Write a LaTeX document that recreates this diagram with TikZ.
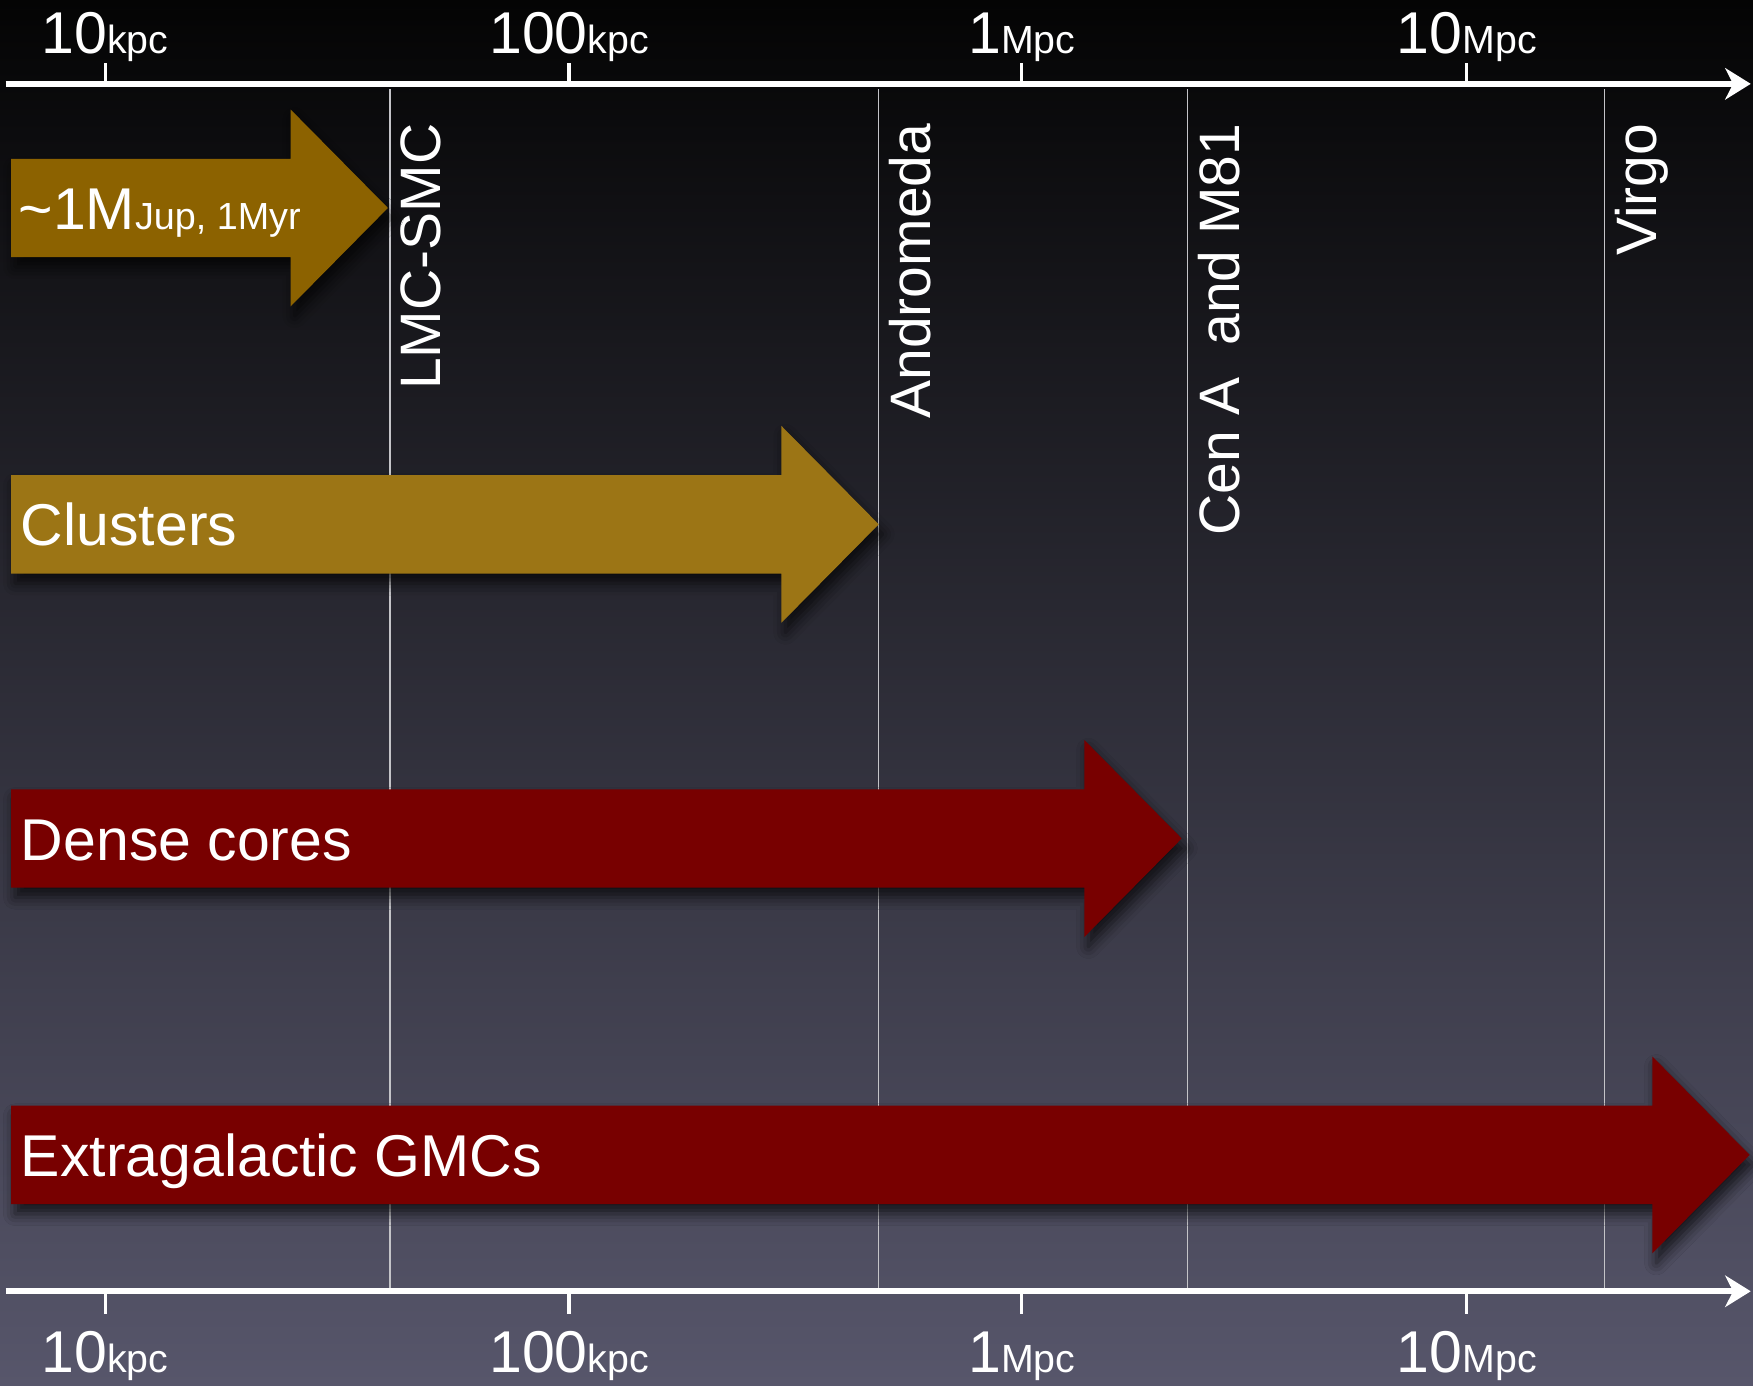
\documentclass[tikz,border=0pt]{standalone}
\usepackage{fontspec}
\setmainfont{Liberation Sans}
\usetikzlibrary{calc, arrows.meta, shadows.blur}

\begin{document}
\begin{tikzpicture}[x=0.01cm, y=-0.01cm]
    % Define colours
    \definecolor{skyTop}{HTML}{040404}
    \definecolor{skyMid}{HTML}{25252F}
    \definecolor{skyBottom}{HTML}{57566B}
    \definecolor{markerColour}{HTML}{C4C4C8}
    \definecolor{ochreColour}{HTML}{8C6200}
    \definecolor{goldColour}{HTML}{9C7515}
    \definecolor{redColour}{HTML}{780000}

    % Define arrow sizes
    \def\shaftHalf{44}
    \def\headHalf{88}
    \def\headLength{87}

    % Define styles
    \tikzset{
        axisline/.style={white, line width=1.6pt, -{Stealth[length=6.5pt, width=8pt, inset=2pt]}},
        tickline/.style={white, line width=0.8pt},
        markerline/.style={markerColour, line width=0.35pt},
        bigtext/.style={text=white, inner sep=0pt, font=\fontsize{15}{18}\selectfont},
        sidetext/.style={text=white, inner sep=0pt, font=\fontsize{14.5}{18}\selectfont},
        arrowshadow/.style={blur shadow={shadow xshift=1pt, shadow yshift=-2.5pt,
            shadow blur radius=3pt, shadow opacity=70}}
    }
    \def\smallfont{\fontsize{9.6}{12}\selectfont}
    \def\unitfont{\fontsize{10}{12}\selectfont}

    % Block arrow: centre y, tip x, colour
    \def\rangeArrow#1#2#3{%
        \fill[#3, arrowshadow] (10,{#1-\shaftHalf}) -- ({#2-\headLength},{#1-\shaftHalf})
            -- ({#2-\headLength},{#1-\headHalf}) -- (#2,#1)
            -- ({#2-\headLength},{#1+\headHalf}) -- ({#2-\headLength},{#1+\shaftHalf})
            -- (10,{#1+\shaftHalf}) -- cycle;}

    % Background
    \shade[top color=skyTop, middle color=skyMid, bottom color=skyBottom] (0,0) rectangle (1568,1239);
    \useasboundingbox (0,0) rectangle (1568,1239);

    % Draw distance markers
    \foreach \x/\name/\txt in {349/lmc/LMC-SMC, 786/andromeda/Andromeda,
                               1062/cena/Cen A~~and M81, 1435/virgo/Virgo} {
        \draw[markerline] (\x,80) -- (\x,1153);
        \node[sidetext, rotate=90, anchor=north east] (\name) at (\x+9,110) {\txt};
    }

    % Draw the range arrows
    \rangeArrow{186}{347}{ochreColour}
    \rangeArrow{469}{786}{goldColour}
    \rangeArrow{750}{1057}{redColour}
    \rangeArrow{1033}{1565}{redColour}

    % Label the range arrows
    \node[bigtext, anchor=base west] (jupiter) at (16,205) {\textasciitilde 1M{\smallfont Jup, 1Myr}};
    \node[bigtext, anchor=base west] (clusters) at (18,488) {Clusters};
    \node[bigtext, anchor=base west] (cores) at (18,770) {Dense cores};
    \node[bigtext, anchor=base west] (gmcs) at (18,1052) {Extragalactic GMCs};

    % Draw axes
    \draw[axisline] (5,75) -- (1566,75);
    \draw[axisline] (5,1155) -- (1566,1155);

    % Ticks and distance labels
    \foreach \x/\val/\unitName/\name in {94/10/kpc/tenkpc, 509/100/kpc/hundredkpc,
                                         914/1/Mpc/onempc, 1312/10/Mpc/tenmpc} {
        \draw[tickline] (\x,75) -- (\x,56);
        \draw[tickline] (\x,1155) -- (\x,1175);
        \node[bigtext, anchor=base] (top\name) at (\x,48) {\val{\unitfont\unitName}};
        \node[bigtext, anchor=base] (bot\name) at (\x,1228) {\val{\unitfont\unitName}};
    }

\end{tikzpicture}
\end{document}
